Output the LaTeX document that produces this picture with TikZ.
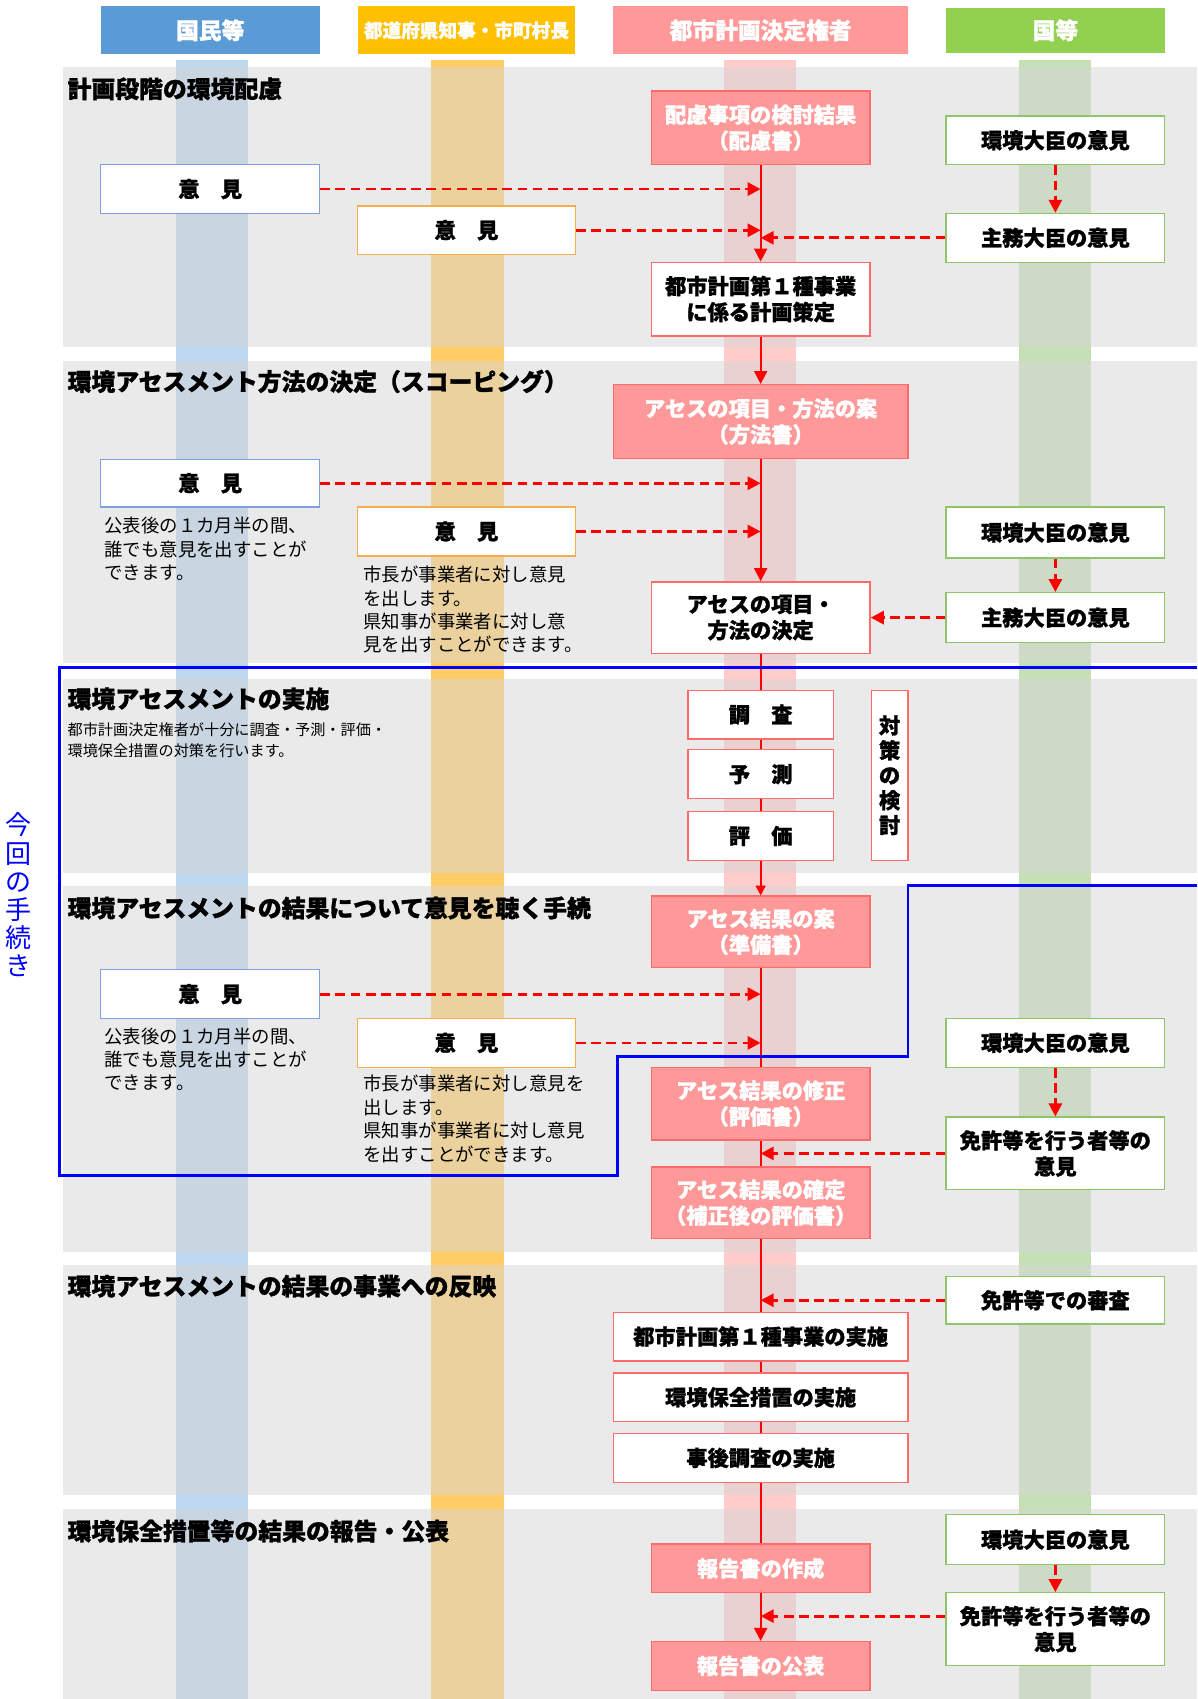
\documentclass[tikz,border=0pt]{standalone}
\usepackage{fontspec}
\newfontfamily\jp{Noto Sans CJK JP}
\IfFontExistsTF{Noto Sans CJK JP Black}
  {\newfontfamily\jpb{Noto Sans CJK JP Black}[FakeBold=1.2]}
  {\newfontfamily\jpb{Noto Sans CJK JP}[FakeBold=4]}
\usetikzlibrary{arrows.meta}
\definecolor{hblue}{HTML}{5B9BD5}
\definecolor{horange}{HTML}{FFC000}
\definecolor{hpink}{HTML}{FF9999}
\definecolor{hgreen}{HTML}{92D050}
\definecolor{sblue}{HTML}{BDD7EE}
\definecolor{sorange}{HTML}{FFCC66}
\definecolor{spink}{HTML}{FFCCCC}
\definecolor{sgreen}{HTML}{C5E0B4}
\definecolor{pinkfill}{HTML}{FF9999}
\definecolor{pinkbd}{HTML}{FF6B6B}
\definecolor{greenbd}{HTML}{8FC46A}
\definecolor{bluebd}{HTML}{7F9FDD}
\definecolor{orangebd}{HTML}{F6AE4A}
\newcommand\bx[7]{\node[#1, minimum width={(#5-#3)*0.5pt}, minimum height={(#6-#4)*0.5pt}] (#2) at ({(#3+#5)/2},{(#4+#6)/2}) {#7};}
\tikzset{
  hdr/.style={inner sep=0pt, text=white, font=\jpb\fontsize{10.5}{12}\selectfont},
  boxbase/.style={inner sep=0pt, line width=0.6pt, align=center, font=\jpb\fontsize{9.8}{12}\selectfont},
  pinkbox/.style={boxbase, draw=pinkbd, fill=pinkfill, text=white},
  whitebox/.style={boxbase, draw=pinkbd, fill=white, text=black},
  greenbox/.style={boxbase, draw=greenbd, fill=white, text=black},
  bluebox/.style={boxbase, draw=bluebd, fill=white, text=black},
  orangebox/.style={boxbase, draw=orangebd, fill=white, text=black},
  band/.style={fill=black!16, fill opacity=0.5},
  flow/.style={draw=red, line width=1pt},
  flowarrow/.style={flow, -{Triangle[length=6pt,width=6pt]}},
  dasharrow/.style={draw=red, line width=1.3pt, dash pattern=on 4.5pt off 2.5pt, -{Triangle[length=6pt,width=6pt]}},
  note/.style={font=\jp\fontsize{8.5}{10.8}\selectfont, align=left, anchor=north west, inner sep=0pt},
  subnote/.style={font=\jp\fontsize{7}{9.5}\selectfont, align=left, anchor=north west, inner sep=0pt},
  sectitle/.style={font=\jpb\fontsize{11}{13}\selectfont, anchor=west, inner sep=0pt}
}
\begin{document}
\begin{tikzpicture}[x=0.5pt,y=-0.5pt]
\useasboundingbox (0,0) rectangle (1105,1568);
% lane stripes
\fill[sblue] (162,55) rectangle (229,1568);
\fill[sorange] (398,55) rectangle (465,1568);
\fill[spink] (668,55) rectangle (735,1568);
\fill[sgreen] (940,55) rectangle (1007,1568);
% section bands
\fill[band] (58,62) rectangle (1105,320);
\fill[band] (58,333) rectangle (1105,612);
\fill[band] (58,627) rectangle (1105,806);
\fill[band] (58,818) rectangle (1105,1155);
\fill[band] (58,1167) rectangle (1105,1380);
\fill[band] (58,1393) rectangle (1105,1568);
% headers
\bx{hdr, fill=hblue}{h1}{93}{6}{295}{50}{国民等}
\bx{hdr, fill=horange, font=\jpb\fontsize{8.6}{10}\selectfont}{h2}{330}{6}{531}{50}{都道府県知事・市町村長}
\bx{hdr, fill=hpink}{h3}{566}{6}{838}{50}{都市計画決定権者}
\bx{hdr, fill=hgreen}{h4}{873}{7}{1075}{49}{国等}
% section titles
\node[sectitle] (t1) at (62,82) {計画段階の環境配慮};
\node[sectitle] (t2) at (62,352) {環境アセスメント方法の決定（スコーピング）};
\node[sectitle] (t3) at (62,645) {環境アセスメントの実施};
\node[subnote] (sub3) at (62,667) {都市計画決定権者が十分に調査・予測・評価・\\環境保全措置の対策を行います。};
\node[sectitle] (t4) at (62,838) {環境アセスメントの結果について意見を聴く手続};
\node[sectitle] (t5) at (62,1187) {環境アセスメントの結果の事業への反映};
\node[sectitle] (t6) at (62,1413) {環境保全措置等の結果の報告・公表};
% section 1
\bx{pinkbox}{haiko}{601}{84}{803}{152}{配慮事項の検討結果\\（配慮書）}
\bx{greenbox}{kankyo1}{873}{107}{1075}{152}{環境大臣の意見}
\bx{bluebox}{iken1a}{93}{152}{295}{197}{意　見}
\bx{orangebox}{iken1b}{330}{190}{531}{235}{意　見}
\bx{greenbox}{shumu1}{873}{197}{1075}{242}{主務大臣の意見}
\bx{whitebox}{keikaku}{601}{242}{803}{310}{都市計画第１種事業\\に係る計画策定}
% section 2
\bx{pinkbox}{hoho}{566}{355}{838}{423}{アセスの項目・方法の案\\（方法書）}
\bx{bluebox}{iken2a}{93}{424}{295}{468}{意　見}
\node[note] (note2a) at (96,477) {公表後の１カ月半の間、\\誰でも意見を出すことが\\できます。};
\bx{orangebox}{iken2b}{330}{468}{531}{513}{意　見}
\node[note] (note2b) at (335,522) {市長が事業者に対し意見\\を出します。\\県知事が事業者に対し意\\見を出すことができます。};
\bx{greenbox}{kankyo2}{873}{468}{1075}{515}{環境大臣の意見}
\bx{greenbox}{shumu2}{873}{547}{1075}{593}{主務大臣の意見}
\bx{whitebox}{kettei}{601}{537}{803}{603}{アセスの項目・\\方法の決定}
% section 3
\bx{whitebox}{chosa}{635}{637}{769}{682}{調　査}
\bx{whitebox}{yosoku}{635}{692}{769}{737}{予　測}
\bx{whitebox}{hyoka}{635}{749}{769}{794}{評　価}
\bx{whitebox, font=\jpb\fontsize{9.8}{11.5}\selectfont}{taisaku}{804}{637}{838}{794}{対\\策\\の\\検\\討}
% section 4
\bx{pinkbox}{junbi}{601}{827}{803}{893}{アセス結果の案\\（準備書）}
\bx{bluebox}{iken4a}{93}{895}{295}{940}{意　見}
\node[note] (note4a) at (96,948) {公表後の１カ月半の間、\\誰でも意見を出すことが\\できます。};
\bx{orangebox}{iken4b}{330}{940}{531}{985}{意　見}
\node[note] (note4b) at (335,992) {市長が事業者に対し意見を\\出します。\\県知事が事業者に対し意見\\を出すことができます。};
\bx{greenbox}{kankyo4}{873}{940}{1075}{985}{環境大臣の意見}
\bx{greenbox}{menkyo4}{873}{1031}{1075}{1098}{免許等を行う者等の\\意見}
\bx{pinkbox}{shusei}{601}{985}{803}{1052}{アセス結果の修正\\（評価書）}
\bx{pinkbox}{kakutei}{601}{1077}{803}{1143}{アセス結果の確定\\（補正後の評価書）}
% section 5
\bx{greenbox}{shinsa}{873}{1178}{1075}{1222}{免許等での審査}
\bx{whitebox}{jisshi}{566}{1211}{838}{1256}{都市計画第１種事業の実施}
\bx{whitebox}{hozen}{566}{1267}{838}{1312}{環境保全措置の実施}
\bx{whitebox}{jigo}{566}{1323}{838}{1368}{事後調査の実施}
% section 6
\bx{greenbox}{kankyo6}{873}{1398}{1075}{1444}{環境大臣の意見}
\bx{greenbox}{menkyo6}{873}{1470}{1075}{1537}{免許等を行う者等の\\意見}
\bx{pinkbox}{sakusei}{601}{1425}{803}{1470}{報告書の作成}
\bx{pinkbox}{kohyo}{601}{1515}{803}{1560}{報告書の公表}
% main flow
\draw[flowarrow] (haiko.south) -- (keikaku.north);
\draw[flowarrow] (keikaku.south) -- (hoho.north);
\draw[flowarrow] (hoho.south) -- (kettei.north);
\draw[flow] (kettei.south) -- (chosa.north);
\draw[flow] (chosa.south) -- (yosoku.north);
\draw[flow] (yosoku.south) -- (hyoka.north);
\draw[flow, -{Triangle[length=4.5pt,width=4.5pt]}] (hyoka.south) -- (junbi.north);
\draw[flow] (junbi.south) -- (shusei.north);
\draw[flow] (shusei.south) -- (kakutei.north);
\draw[flow] (kakutei.south) -- (jisshi.north);
\draw[flow] (jisshi.south) -- (hozen.north);
\draw[flow] (hozen.south) -- (jigo.north);
\draw[flow] (jigo.south) -- (sakusei.north);
\draw[flowarrow] (sakusei.south) -- (kohyo.north);
% dashed arrows
\draw[dasharrow] (iken1a.east) -- (iken1a.east -| haiko.south);
\draw[dasharrow] (iken1b.east) -- (iken1b.east -| haiko.south);
\draw[dasharrow] (shumu1.west) -- (shumu1.west -| haiko.south);
\draw[dasharrow] (kankyo1.south) -- (shumu1.north);
\draw[dasharrow] (iken2a.east) -- (iken2a.east -| hoho.south);
\draw[dasharrow] (iken2b.east) -- (iken2b.east -| hoho.south);
\draw[dasharrow] (kankyo2.south) -- (shumu2.north);
\draw[dasharrow] (shumu2.west) -- (kettei.east);
\draw[dasharrow] (iken4a.east) -- (iken4a.east -| junbi.south);
\draw[dasharrow] (iken4b.east) -- (iken4b.east -| junbi.south);
\draw[dasharrow] (kankyo4.south) -- (menkyo4.north);
\draw[dasharrow] (menkyo4.west) -- (menkyo4.west -| shusei.south);
\draw[dasharrow] (shinsa.west) -- (shinsa.west -| kakutei.south);
\draw[dasharrow] (kankyo6.south) -- (menkyo6.north);
\draw[dasharrow] ([yshift=6pt]menkyo6.west) -- ([yshift=6pt]menkyo6.west -| sakusei.south);
% current procedure outline
\draw[blue, line width=1.2pt] (1105,616) -- (55,616) -- (55,1085) -- (570,1085) -- (570,975) -- (838,975) -- (838,817) -- (1105,817);
\node[inner sep=0pt, text=blue, align=center, font=\jp\fontsize{12}{13}\selectfont] (konkai) at (17,826) {今\\回\\の\\手\\続\\き};
\end{tikzpicture}
\end{document}
